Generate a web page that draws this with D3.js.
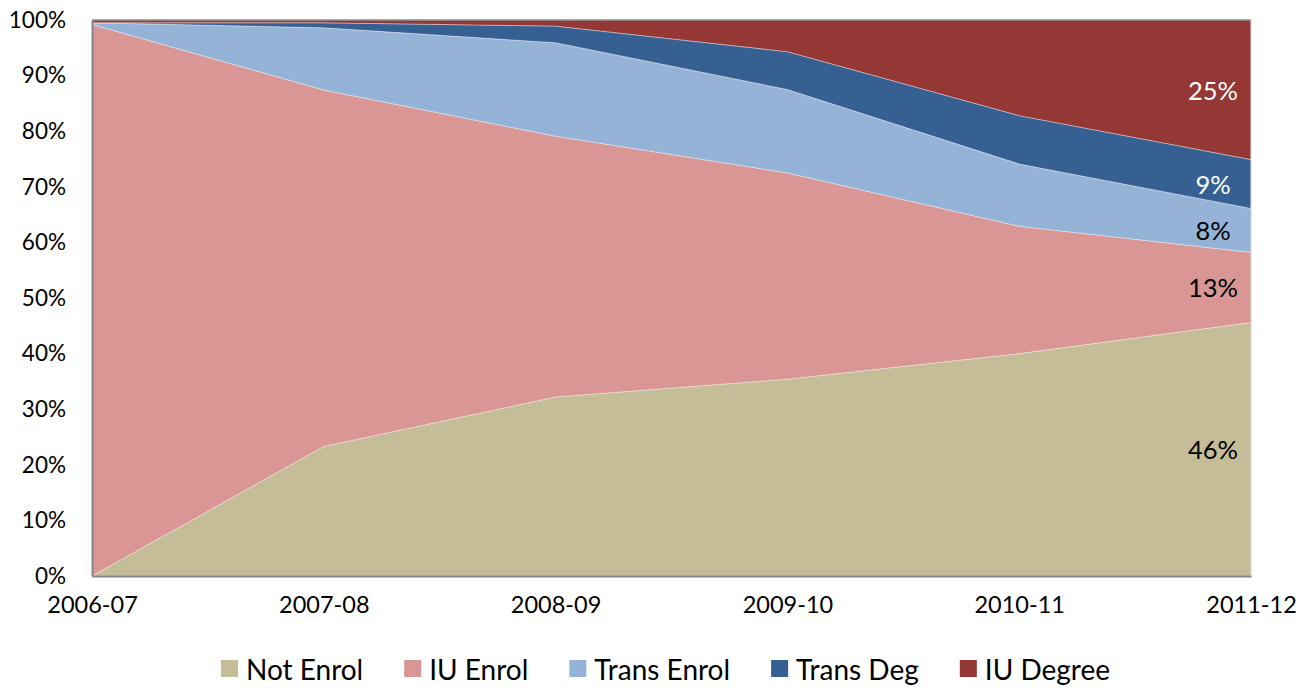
<!doctype html>
<html>
<head>
<meta charset="UTF-8">
<script src="https://d3js.org/d3.v7.min.js"></script>
<style>
	body { margin: 0; background: #fff; }
	text { font-family: Lato, "Open Sans", sans-serif; fill: #000; }
</style>
</head>
<body>
<svg id="chart"></svg>
<script>
// years on the x axis
const years = ["2006-07", "2007-08", "2008-09", "2009-10", "2010-11", "2011-12"];
// share of students in each state, per year (percent)
const notEnrol   = [0,    23.3, 32.2, 35.4, 40.0, 45.6];
const iuEnrol    = [99.2, 64.1, 46.9, 37.1, 22.9, 12.6];
const transEnrol = [0.3,  11.2, 16.8, 15.0, 11.2, 7.9];
const transDeg   = [0,    0.9,  3.0,  6.8,  8.7,  8.8];
const iuDegree   = [0.5,  0.5,  1.1,  5.7,  17.2, 25.1];
const seriesNames = ["Not Enrol", "IU Enrol", "Trans Enrol", "Trans Deg", "IU Degree"];
const endLabels = ["46%", "13%", "8%", "9%", "25%"];
const yTicks = [0, 10, 20, 30, 40, 50, 60, 70, 80, 90, 100];

(function(){
	let W = 1307, H = 698;
	let margin = {top: 20, right: 56, bottom: 122, left: 92};
	let width = W - margin.left - margin.right,
		height = H - margin.top - margin.bottom;

	let colors = ["#C4BD97", "#D99694", "#95B3D7", "#366092", "#953735"];
	let labelColors = ["#000", "#000", "#000", "#fff", "#fff"];

	let svg = d3.select("#chart").attr("width", W).attr("height", H);
	let chart = svg.append("g").attr("transform", "translate(" + margin.left + "," + margin.top + ")");

	let rows = years.map(function(y, i){
		return {year: y, "Not Enrol": notEnrol[i], "IU Enrol": iuEnrol[i], "Trans Enrol": transEnrol[i],
			"Trans Deg": transDeg[i], "IU Degree": iuDegree[i]};
	});
	let stack = d3.stack().keys(seriesNames).offset(d3.stackOffsetExpand);
	let layers = stack(rows);

	let x = d3.scalePoint().domain(years).range([0, width]);
	let y = d3.scaleLinear().domain([0, 1]).range([height, 0]);

	let area = d3.area()
		.x(function(d){ return x(d.data.year); })
		.y0(function(d){ return y(d[0]); })
		.y1(function(d){ return y(d[1]); });

	chart.selectAll(".layer")
		.data(layers)
	  .enter().append("path")
		.attr("class", "layer")
		.attr("d", area)
		.attr("fill", function(d, i){ return colors[i]; })
		.attr("stroke", "#fff")
		.attr("stroke-opacity", 0.5)
		.attr("stroke-width", 0.7);

	// plot borders
	chart.append("line").attr("x1", 0).attr("x2", width).attr("y1", 0).attr("y2", 0)
		.attr("stroke", "#8c8c8c").attr("stroke-width", 1.5);
	chart.append("line").attr("x1", width).attr("x2", width).attr("y1", 0).attr("y2", height)
		.attr("stroke", "#d0d0d0").attr("stroke-width", 1);

	// y axis
	let yAxis = d3.axisLeft(y).tickValues(yTicks.map(function(t){ return t / 100; }))
		.tickFormat(function(d){ return Math.round(d * 100) + "%"; })
		.tickSize(0).tickPadding(26);
	let gy = chart.append("g").call(yAxis);
	gy.select(".domain").attr("stroke", "#868686").attr("stroke-width", 2);
	gy.selectAll("text").style("font-size", "22.5px").style("font-family", "Lato, sans-serif").attr("fill", "#000");

	// x axis
	let xAxis = d3.axisBottom(x).tickSize(0).tickPadding(20);
	let gx = chart.append("g").attr("transform", "translate(0," + height + ")").call(xAxis);
	gx.select(".domain").attr("stroke", "#868686").attr("stroke-width", 2);
	gx.selectAll("text").style("font-size", "23.5px").style("font-family", "Lato, sans-serif").attr("fill", "#000");

	// labels at the last year
	let last = years.length - 1;
	chart.selectAll(".endLabel")
		.data(layers)
	  .enter().append("text")
		.attr("class", "endLabel")
		.attr("x", x(years[last]) - 38)
		.attr("y", function(d){ return y((d[last][0] + d[last][1]) / 2); })
		.attr("text-anchor", "middle")
		.attr("dominant-baseline", "central")
		.style("font-size", "25.5px")
		.style("fill", function(d, i){ return labelColors[i]; })
		.text(function(d, i){ return endLabels[i]; });

	// legend
	let legend = svg.append("g").attr("transform", "translate(0,669)");
	let items = legend.selectAll(".item").data(seriesNames).enter().append("g").attr("class", "item");
	items.append("rect").attr("width", 17).attr("height", 17).attr("y", -9)
		.attr("fill", function(d, i){ return colors[i]; });
	items.append("text").attr("x", 25).attr("dominant-baseline", "central")
		.style("font-size", "28px").text(function(d){ return d; });
	let pos = 0, offsets = [];
	items.each(function(){
		offsets.push(pos);
		pos += this.getBBox().width + 41;
	});
	let total = pos - 41;
	let start = (margin.left + width / 2) - total / 2 - 6;
	items.attr("transform", function(d, i){ return "translate(" + (start + offsets[i]) + ",0)"; });
})();
</script>
</body>
</html>
